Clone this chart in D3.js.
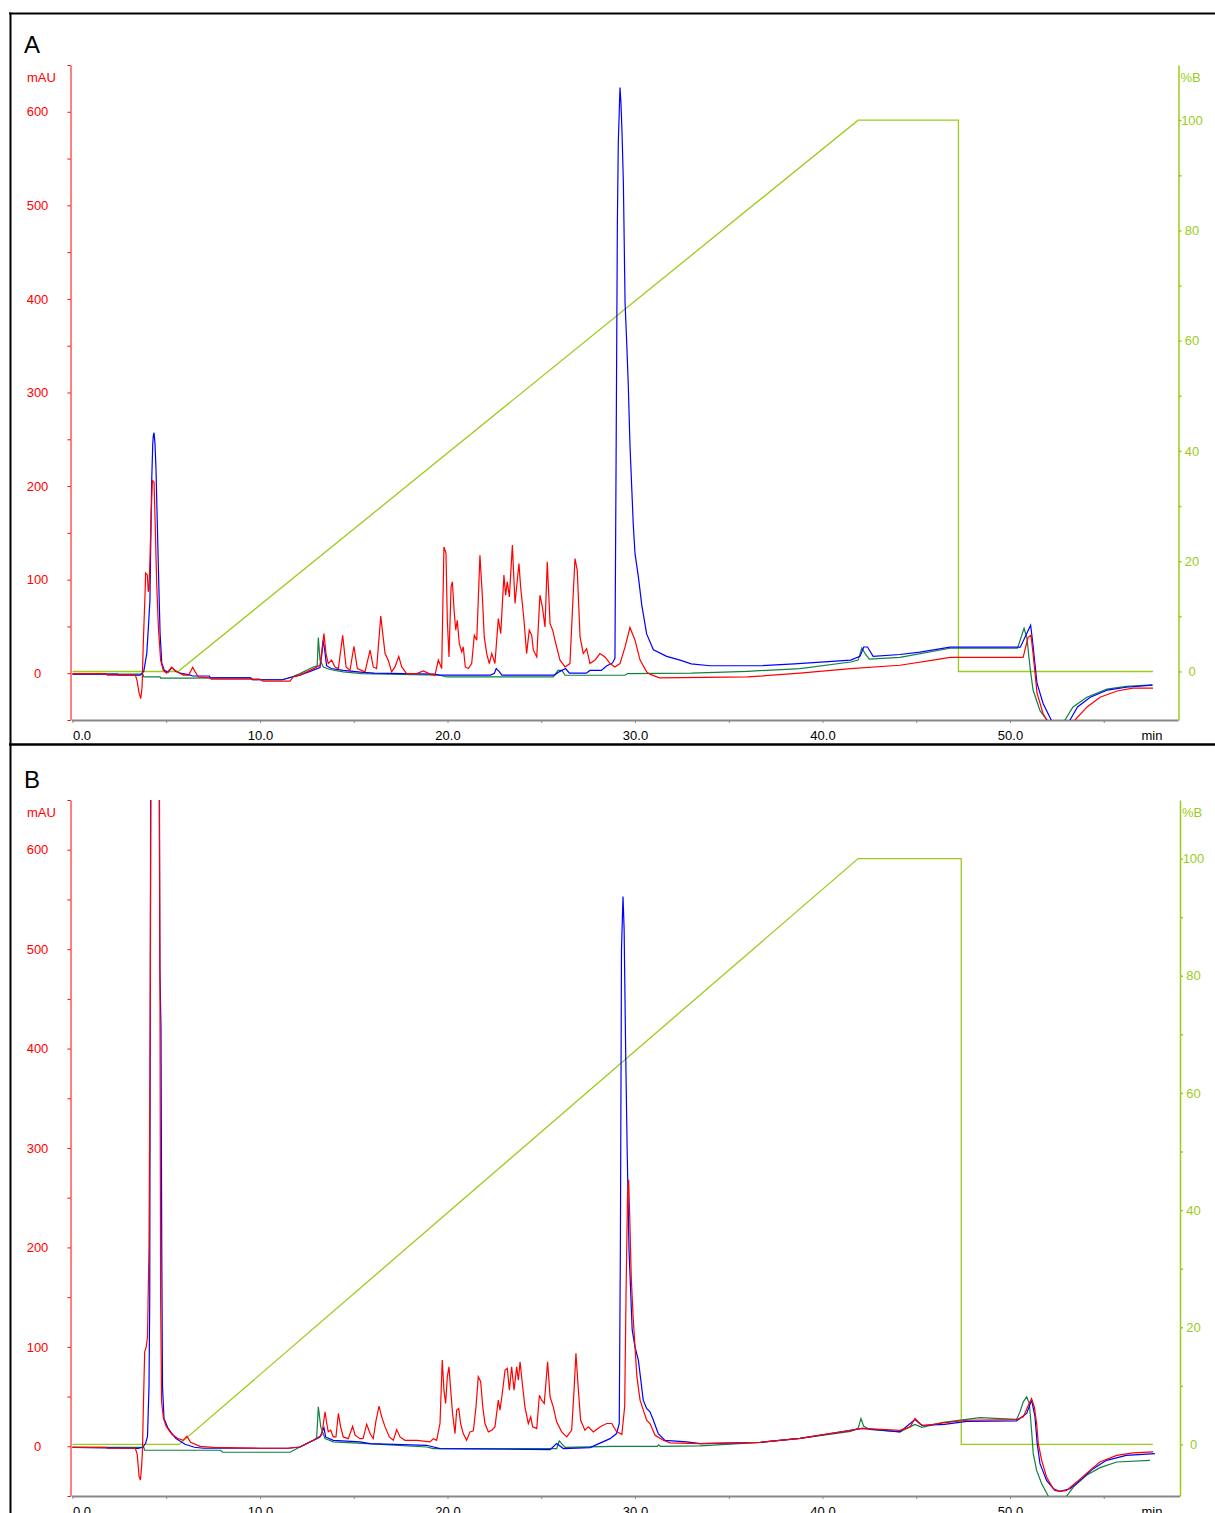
<!DOCTYPE html>
<html>
<head>
<meta charset="utf-8">
<script src="https://cdn.jsdelivr.net/npm/d3@7"></script>
<style>
  body { margin: 0; background: #fff; }
  svg { display: block; font-family: "Liberation Sans", Arial, sans-serif; }
</style>
</head>
<body>
<div id="chart"></div>
<script>
// ---- data: [time (min), mAU] ----
const blueA = [[0,-1],[2.4,-1],[2.45,-2],[3.6,-2],[3.8,2],[3.96,21],[4.05,50],[4.13,78],[4.22,203],[4.28,245],[4.31,254],[4.35,257],[4.4,245],[4.45,220],[4.58,113],[4.67,43],[4.76,11],[4.9,3],[5.1,1],[5.29,6],[5.5,2],[5.73,0],[6.3,-2],[6.4,-3],[7.3,-3],[7.35,-5],[9.5,-5],[9.6,-7],[11.2,-7],[11.7,-4],[12.13,-2],[12.67,2],[13.2,6],[13.3,20],[13.36,35],[13.45,25],[13.55,8],[13.8,5],[14.44,3],[15.5,1],[16.1,0],[19.3,-1],[19.6,-2],[22.3,-2],[22.5,0],[22.6,5],[22.75,2],[22.9,-2],[25.7,-2],[26.0,2],[26.3,5],[26.5,0],[27.4,0],[27.6,3],[28.2,3],[28.5,8],[28.8,11],[28.93,16],[28.99,223],[29.06,482],[29.11,568],[29.2,626],[29.25,610],[29.31,576],[29.38,524],[29.47,396],[29.56,352],[29.64,309],[29.73,245],[29.82,201],[29.91,158],[30.0,128],[30.18,103],[30.36,73],[30.62,42],[30.98,25],[31.69,18],[32.4,14],[33,10],[34,8],[36.7,8],[38.5,10],[41.5,14],[42.0,18],[42.2,28],[42.4,28],[42.7,18],[44.13,20],[45.2,22.5],[46.8,27.8],[50.55,27.8],[50.9,42.8],[51.1,51.3],[51.2,35],[51.44,-10.7],[51.76,-32],[52.2,-50],[52.5,-60],[52.9,-60],[53.2,-50],[53.6,-36],[54.28,-25.6],[55.2,-18],[56.2,-15],[57.6,-12.8]];

const redA = [[0,-0.5],[1.8,-0.5],[1.85,-2],[3.35,-2],[3.44,-7.5],[3.55,-21],[3.64,-27],[3.71,-15],[3.74,6],[3.78,35],[3.87,85],[3.9,107],[3.99,105],[4.04,87],[4.08,90],[4.13,121],[4.19,167],[4.26,206],[4.35,204],[4.4,167],[4.49,96],[4.58,49],[4.7,14],[4.84,3],[5.02,0],[5.29,6.4],[5.47,3],[5.64,1],[5.91,-2],[6.2,-2],[6.41,6.4],[6.53,2],[6.71,-4],[7.33,-5],[7.4,-6.4],[10.0,-6.4],[10.16,-8.5],[11.6,-8.5],[11.76,-4],[12.13,-2],[12.67,3],[13.2,8.5],[13.41,42.4],[13.52,21],[13.64,10.3],[13.82,14],[14.0,6.7],[14.18,5],[14.41,40.6],[14.59,6.7],[14.8,3],[15.01,28.8],[15.19,5],[15.6,1.4],[15.87,24.6],[16.04,6.7],[16.22,5],[16.44,61],[16.67,21],[16.84,14],[17.02,1.4],[17.2,6.7],[17.4,18],[17.56,6.7],[17.82,-0.4],[18.36,-0.4],[18.71,2.5],[19.07,-1],[19.33,-2.2],[19.51,14],[19.69,5],[19.81,135],[19.92,128],[19.99,56.6],[20.08,17.4],[20.19,92.3],[20.26,97.6],[20.35,67.3],[20.44,46],[20.52,56.6],[20.63,31.7],[20.76,22.8],[20.84,28.1],[20.95,6.7],[21.11,5],[21.29,10.3],[21.43,40.6],[21.56,35.3],[21.73,126],[21.86,81.6],[21.96,38.8],[22.09,21],[22.23,10.3],[22.36,21],[22.53,10.3],[22.71,58.4],[22.84,42.4],[23.01,104.8],[23.1,83.4],[23.19,97.6],[23.3,81.6],[23.46,136.9],[23.6,74.5],[23.81,117.3],[23.9,92.3],[24.08,56.6],[24.22,21],[24.36,46],[24.49,40.6],[24.58,24.6],[24.76,17.4],[24.93,83.4],[25.06,70.9],[25.2,49.5],[25.32,119],[25.47,53],[25.61,46],[25.73,35.3],[26.0,14],[26.27,6.7],[26.53,10.3],[26.68,74.5],[26.8,122.6],[26.92,110],[27.07,38.8],[27.24,21],[27.42,26.3],[27.6,10.3],[27.87,14],[28.13,21],[28.4,17.4],[28.67,10.3],[28.93,6.7],[29.2,10.3],[29.47,28.1],[29.73,48.8],[30.0,35.3],[30.27,14],[30.62,1.4],[30.8,-1],[31.3,-5],[36,-4],[38.8,0],[41.5,5],[44.13,8.5],[45.9,14],[46.8,17],[50.7,17],[50.96,38],[51.12,40.6],[51.23,21],[51.44,-21],[51.76,-43],[51.97,-50],[52.4,-60],[53.1,-60],[53.47,-50],[54.11,-36],[54.8,-25.6],[55.71,-19],[56.56,-16],[57.63,-16]];

const greenA = [[0,-1],[3.75,-1],[3.8,-4],[4.67,-4],[4.7,-5.3],[6.4,-5.3],[7.3,-5],[9.5,-5],[9.6,-7],[11.2,-7],[11.7,-4],[12.13,-0.4],[12.84,6.7],[13.05,8],[13.11,38],[13.2,14],[13.38,6.7],[13.73,4],[14.44,1.4],[15.42,-0.4],[19.6,-2.2],[19.95,-4],[25.64,-4],[25.9,3],[26.1,3],[26.27,-2.2],[29.47,-2.2],[29.6,-0.4],[33,0],[36,2],[38.8,5],[41.5,12],[41.9,14],[42.1,27],[42.3,20],[42.5,15],[44.13,17],[46.8,26.7],[50.4,26.7],[50.75,48],[50.9,38],[51.07,6],[51.23,-18],[51.6,-40],[51.97,-50],[52.3,-60],[52.7,-60],[52.93,-50],[53.36,-36],[54.1,-25.6],[55.17,-17],[56.2,-14],[57.6,-12.5]];

const blueB = [[0,-1],[3.5,-2],[3.75,-1],[3.9,3],[4.0,10],[4.08,60],[4.12,150],[4.18,800],[4.6,800],[4.66,480],[4.72,420],[4.76,200],[4.8,60],[4.88,28],[5.1,18],[5.5,8],[6.0,2],[6.5,-1],[7,-2],[11.5,-2],[12.13,-0.7],[13.2,9.4],[13.41,18.8],[13.5,9.4],[13.91,6],[15.33,4.4],[15.87,2.7],[18.89,1],[19.6,-2.3],[25.47,-3.4],[25.82,2.7],[26.18,-2.3],[27.6,-1.3],[28.67,7.7],[29.02,12.8],[29.16,22.9],[29.22,200],[29.28,500],[29.36,553],[29.42,520],[29.5,400],[29.58,300],[29.68,198],[29.85,117],[30.0,100],[30.18,86.7],[30.44,46.4],[30.62,38],[30.8,34.6],[30.98,26.2],[31.24,12.8],[31.6,6],[32.76,4.4],[33.47,2.7],[36.7,4],[38.8,8],[41.5,16],[42.1,18],[44.13,14.5],[44.93,26.9],[45.3,21],[46.5,22],[47.7,25],[50.35,25.6],[50.89,33],[51.15,46.4],[51.33,30],[51.45,2.7],[51.6,-17.5],[51.95,-34.3],[52.4,-44.4],[52.66,-45.4],[53.2,-42.7],[53.73,-34.3],[54.44,-22.5],[55.15,-14.1],[56.2,-9.1],[57.73,-7.4]];

const redB = [[0,-1],[1.8,-1],[1.85,-2],[3.35,-2],[3.45,-8],[3.55,-30],[3.62,-34],[3.68,-22],[3.73,-5],[3.78,40],[3.85,95],[3.93,100],[4.0,110],[4.08,200],[4.15,450],[4.2,800],[4.62,800],[4.66,500],[4.7,150],[4.75,45],[4.85,28],[5.0,20],[5.3,12],[5.6,8],[5.9,6],[6.1,10],[6.3,4],[6.8,0],[7.5,-1],[10,-2],[11.5,-2],[12.13,-0.7],[12.84,6],[13.29,11.1],[13.47,34.6],[13.56,22.9],[13.64,14.5],[13.77,16.1],[13.91,9.4],[14.05,9.4],[14.18,33],[14.3,19.5],[14.44,9.4],[14.71,7.7],[14.94,20.2],[15.07,11.1],[15.33,7.7],[15.5,8],[15.69,22.2],[15.87,12.8],[16.04,7.7],[16.19,26.2],[16.35,40.3],[16.49,29.6],[16.67,19.5],[16.9,9.4],[17.11,6],[17.29,16.8],[17.47,9.4],[17.73,6],[18.36,6],[19.07,4.4],[19.24,7.7],[19.42,6],[19.6,22.9],[19.72,86.7],[19.81,56.5],[19.9,43],[19.99,69.9],[20.08,80],[20.17,56.5],[20.27,33],[20.4,12.8],[20.49,36.3],[20.6,38],[20.7,22.9],[20.84,12.8],[21.02,6],[21.2,14.5],[21.38,15.5],[21.52,39.7],[21.64,69.9],[21.77,64.9],[21.88,39.7],[22.0,22.9],[22.18,14.5],[22.36,16.1],[22.53,19.5],[22.71,46.4],[22.8,36.3],[22.92,53.1],[23.07,76.6],[23.19,78.3],[23.3,56.5],[23.42,80],[23.55,56.5],[23.69,80],[23.78,66.6],[23.87,85],[23.99,63.2],[24.13,39.7],[24.31,22.9],[24.44,29.6],[24.54,19.5],[24.76,17.8],[24.9,51.4],[25.02,46.4],[25.16,43],[25.34,85],[25.47,49.8],[25.64,39.7],[25.82,24.6],[26.09,14.5],[26.36,9.4],[26.62,16.1],[26.75,56.5],[26.85,93.5],[26.98,56.5],[27.1,26.2],[27.33,16.1],[27.51,19.5],[27.78,14.5],[28.13,19.5],[28.49,22.9],[28.76,22.9],[29.02,14.5],[29.3,12],[29.45,40],[29.52,150],[29.6,250],[29.66,268],[29.72,230],[29.8,170],[29.9,130],[30.0,100],[30.1,70],[30.27,46.4],[30.62,26.2],[30.8,22.9],[31.07,11.1],[31.51,6],[31.87,3.4],[33.47,2.7],[36.7,4],[38.8,8],[41.5,16],[42.1,18],[44.13,16.1],[44.67,19.5],[44.93,27.9],[45.2,22.9],[45.38,20.5],[46.44,23.5],[47.69,26.2],[50.35,26.9],[50.71,29.6],[50.98,41.3],[51.15,48],[51.3,39.7],[51.42,22.9],[51.51,2.7],[51.69,-14.1],[51.95,-30.9],[52.31,-42.7],[52.66,-45.4],[53.02,-44.4],[53.55,-36],[54.26,-24.2],[54.8,-15.8],[55.69,-9.1],[56.57,-6.7],[57.64,-5.7]];

const greenB = [[0,-1],[3.8,-1],[3.85,-4],[7.9,-4],[8.0,-6],[11.6,-6],[12.13,-0.7],[13.02,7.7],[13.11,39.7],[13.24,19.5],[13.47,7.7],[13.91,4.4],[15.69,2.7],[18.89,-0.7],[19.24,-2.3],[25.82,-2.3],[25.96,5.4],[26.27,-1],[28.84,0],[31.2,0],[31.25,1.5],[31.35,0],[33.47,0.5],[36.7,4],[38.8,8],[41.5,15],[41.9,18],[42.05,28],[42.2,20],[42.5,17],[44.13,14.5],[44.93,22],[45.3,19],[46.44,24],[48.4,28.9],[50.35,27],[50.53,34.6],[50.71,44.7],[50.89,49.8],[51.03,43],[51.15,16.1],[51.24,-7.4],[51.42,-24.2],[51.69,-37.6],[52.04,-50],[52.4,-60],[52.7,-60],[53.02,-50],[53.38,-41],[54.08,-29.2],[54.8,-21.5],[55.69,-15.8],[57.46,-14.1]];

// %B gradient programme [time, %B]
const gradA = [[0,0],[5.63,0],[41.9,100],[47.25,100],[47.25,0],[57.62,0]];
const gradB = [[0,0],[5.68,0],[41.9,100],[47.4,100],[47.4,0],[57.62,0]];

// tick values
const mauTicks = d3.range(-50, 651, 50);
const pctTicks = d3.range(0, 101, 10);
const timeTicks = d3.range(0, 56, 5);

const W = 1215, H = 1513;
const RED = "#ff0000", BLUE = "#0000ff", GREEN = "#108040", LIME = "#9ccc1a";

const svg = d3.select("#chart").append("svg").attr("width", W).attr("height", H);

// outer frame
svg.append("line").attr("x1", 9).attr("x2", W).attr("y1", 13.5).attr("y2", 13.5).attr("stroke", "#000").attr("stroke-width", 2);
svg.append("line").attr("x1", 10.5).attr("x2", 10.5).attr("y1", 12.5).attr("y2", H).attr("stroke", "#000").attr("stroke-width", 2);
svg.append("line").attr("x1", 9).attr("x2", W).attr("y1", 744.5).attr("y2", 744.5).attr("stroke", "#000").attr("stroke-width", 2.5);

const x = d3.scaleLinear().domain([0, 59]).range([72.5, 1178.75]);

function drawPanel(p) {
  const yL = d3.scaleLinear().domain([-50, 650]).range([p.bottom, p.top]);
  const yR = d3.scaleLinear().domain([-8.8, 110]).range([p.bottom, p.top]);
  const g = svg.append("g");

  g.append("clipPath").attr("id", "clip" + p.name)
    .append("rect").attr("x", 72).attr("y", p.top).attr("width", p.rightX - 72).attr("height", p.bottom - p.top);

  // panel letter and units
  g.append("text").attr("x", 24).attr("y", p.top - 12).style("font-size", "24px").text(p.name);
  g.append("text").attr("x", 27).attr("y", p.top + 17).attr("fill", RED).style("font-size", "13px").text("mAU");
  g.append("text").attr("x", p.rightX + 2).attr("y", p.top + 17).attr("fill", LIME).style("font-size", "13px").text("%B");

  // x axis
  const xAxis = d3.axisBottom(x).tickValues(timeTicks).tickSize(3).tickSizeOuter(0)
    .tickFormat(d => d % 10 === 0 ? d.toFixed(1) : "");
  const gx = g.append("g").attr("transform", "translate(0," + p.bottom + ")").call(xAxis);
  gx.select(".domain").attr("stroke", "#888").attr("stroke-width", 2)
    .attr("d", "M72," + 0.5 + "H" + p.rightX);
  gx.selectAll(".tick line").attr("stroke", "#888");
  gx.selectAll(".tick text").attr("fill", "#000").style("font-size", "13px").style("font-family", "Liberation Sans, Arial, sans-serif").attr("y", 11);
  gx.selectAll(".tick").filter(d => d === 0).select("text").attr("text-anchor", "start").attr("x", 0);
  g.append("text").attr("x", 1152).attr("y", p.bottom + 20).attr("text-anchor", "middle").style("font-size", "13px").text("min");

  // left axis (mAU)
  const yAxisL = d3.axisLeft(yL).tickValues(mauTicks).tickSize(3).tickSizeOuter(0)
    .tickFormat(d => (d >= 0 && d % 100 === 0) ? d : "");
  const gl = g.append("g").attr("transform", "translate(70.5,0)").call(yAxisL);
  gl.selectAll(".domain, .tick line").attr("stroke", RED);
  gl.selectAll(".tick text").attr("fill", RED).attr("x", -33).attr("text-anchor", "middle")
    .style("font-size", "13px").style("font-family", "Liberation Sans, Arial, sans-serif");

  // right axis (%B)
  const yAxisR = d3.axisRight(yR).tickValues(pctTicks).tickSize(3).tickSizeOuter(0)
    .tickFormat(d => d % 20 === 0 ? d : "");
  const gr = g.append("g").attr("transform", "translate(" + p.rightX + ",0)").call(yAxisR);
  gr.selectAll(".domain, .tick line").attr("stroke", LIME).attr("stroke-width", 1.5);
  gr.selectAll(".tick text").attr("fill", LIME).attr("x", 13.5).attr("text-anchor", "middle")
    .style("font-size", "13px").style("font-family", "Liberation Sans, Arial, sans-serif");

  const plot = g.append("g").attr("clip-path", "url(#clip" + p.name + ")");
  const lineL = d3.line().x(d => x(d[0])).y(d => yL(d[1]));
  const lineR = d3.line().x(d => x(d[0])).y(d => yR(d[1]));

  plot.append("path").datum(p.grad).attr("d", lineR).attr("fill", "none").attr("stroke", LIME).attr("stroke-width", 1.3);
  plot.append("path").datum(p.green).attr("d", lineL).attr("fill", "none").attr("stroke", GREEN).attr("stroke-width", 1.2);
  plot.append("path").datum(p.blue).attr("d", lineL).attr("fill", "none").attr("stroke", BLUE).attr("stroke-width", 1.2);
  plot.append("path").datum(p.red).attr("d", lineL).attr("fill", "none").attr("stroke", RED).attr("stroke-width", 1.2);
}

drawPanel({ name: "A", top: 65, bottom: 720, rightX: 1178.5, blue: blueA, red: redA, green: greenA, grad: gradA });
drawPanel({ name: "B", top: 800, bottom: 1496, rightX: 1180, blue: blueB, red: redB, green: greenB, grad: gradB });
</script>
</body>
</html>
